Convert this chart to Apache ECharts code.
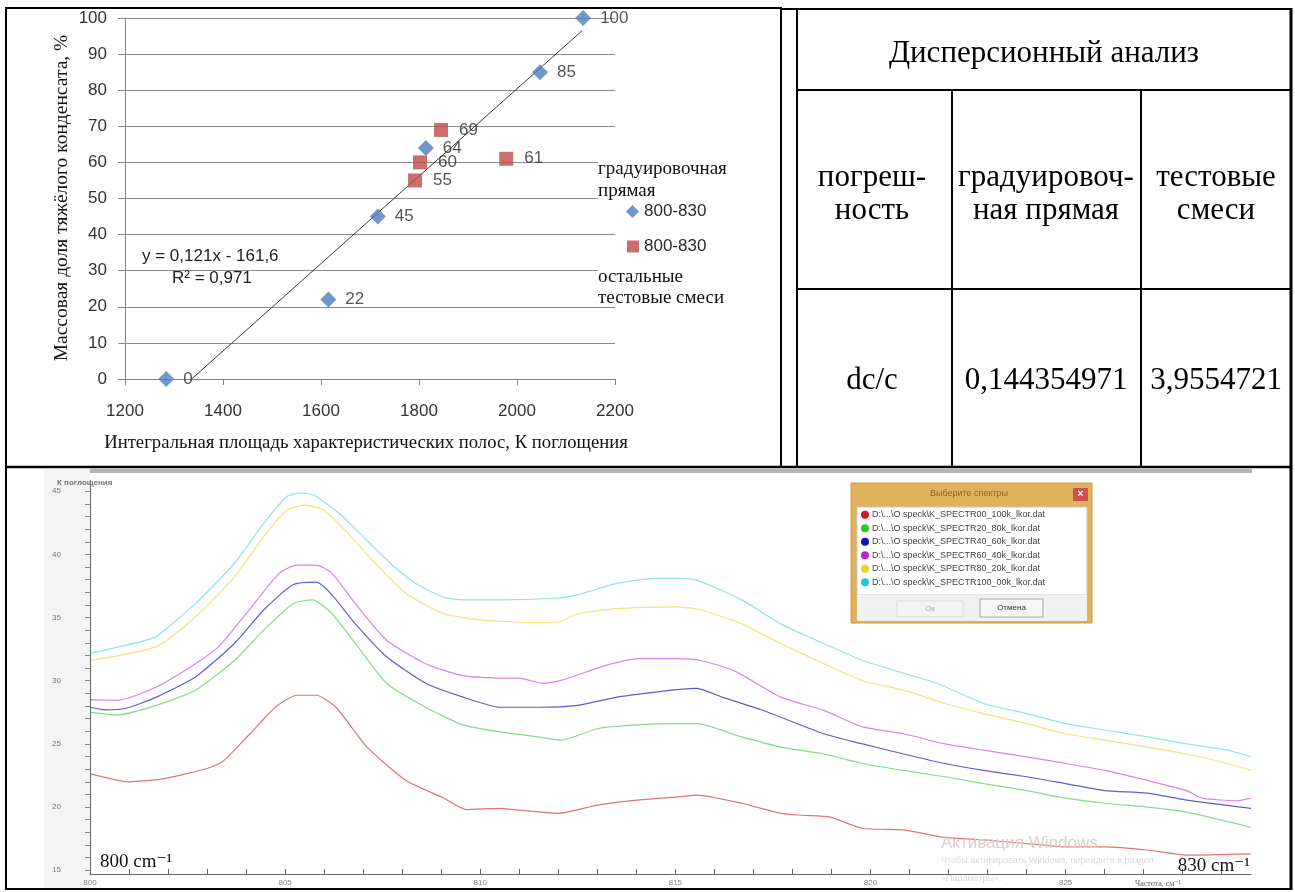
<!DOCTYPE html>
<html><head><meta charset="utf-8">
<script src="https://cdn.jsdelivr.net/npm/echarts@6/dist/echarts.min.js"></script>
<style>html,body{margin:0;padding:0;background:#fff;}#c{width:1295px;height:892px;}</style>
</head><body><div id="c"></div>
<script>
// ---------- DATA: calibration scatter ----------
const calibX = [1284, 1615, 1716, 1814, 2047, 2135];
const calibY = [0, 22, 45, 64, 85, 100];
const testX = [1792, 1802, 1845, 1978];
const testY = [55, 60, 69, 61];
const trendX = [1336, 2133];
const trendY = [0, 96.5];
const scatterXTicks = [1200, 1400, 1600, 1800, 2000, 2200];
const scatterYTicks = [0, 10, 20, 30, 40, 50, 60, 70, 80, 90, 100];
const seriesLegendName = '800-830';
const equationText = 'y = 0,121x - 161,6';
const r2Text = 'R² = 0,971';

// ---------- DATA: table ----------
const tableTitle = 'Дисперсионный анализ';
const tableHead = [['погреш-', 'ность'], ['градуировоч-', 'ная прямая'], ['тестовые', 'смеси']];
const tableRow = ['dc/c', '0,144354971', '3,9554721'];

// ---------- DATA: spectra (x: wavenumber, y: K поглощения) ----------
const specXTicks = [800, 805, 810, 815, 820, 825];
const specYTicks = [15, 20, 25, 30, 35, 40, 45];
const spec00 = [[800.0,22.65],[801.0,22.0],[801.9,22.25],[803.0,23.05],[803.4,23.6],[804.1,25.8],[804.75,27.9],[805.3,28.85],[805.8,28.85],[806.3,27.9],[807.1,24.75],[808.1,22.1],[809.07,20.7],[809.65,19.8],[810.5,19.9],[811.0,19.75],[812.0,19.5],[813.0,20.15],[814.0,20.55],[815.05,20.8],[815.55,20.95],[816.7,20.3],[817.7,19.5],[818.25,19.35],[818.97,19.2],[819.8,18.3],[820.85,18.2],[821.9,17.6],[822.9,17.4],[824.0,17.1],[825.0,16.85],[826.0,16.85],[827.1,16.6],[828.1,16.2],[829.75,16.3]];
const spec20 = [[800.0,27.5],[800.7,27.3],[801.7,28.05],[802.7,29.25],[803.7,31.6],[804.45,34.0],[805.2,36.1],[805.7,36.4],[806.2,35.3],[806.8,32.95],[807.6,29.8],[808.6,27.9],[809.56,26.5],[810.5,25.95],[811.5,25.55],[812.06,25.3],[813.0,26.2],[814.0,26.5],[815.05,26.6],[815.55,26.6],[816.7,25.55],[817.7,24.75],[818.8,24.2],[819.8,23.45],[820.85,22.9],[821.9,22.4],[822.9,21.85],[824.0,21.3],[825.0,20.7],[826.0,20.3],[827.1,20.0],[828.1,19.6],[829.75,18.4]];
const spec40 = [[800.0,27.9],[800.4,27.7],[800.9,27.8],[801.7,28.7],[802.7,30.3],[803.7,32.95],[804.45,35.6],[805.2,37.6],[805.8,37.8],[806.2,36.8],[806.8,34.5],[807.6,31.9],[808.6,29.8],[809.56,28.7],[810.5,27.9],[811.5,27.9],[812.5,28.05],[813.5,28.7],[814.5,29.1],[815.05,29.3],[815.55,29.4],[816.2,28.7],[817.2,27.7],[818.8,25.8],[819.8,25.0],[820.85,24.2],[821.9,23.45],[822.9,22.9],[824.0,22.4],[825.0,21.85],[826.0,21.3],[827.1,21.1],[828.1,20.55],[829.75,19.9]];
const spec60 = [[800.0,28.5],[800.7,28.45],[801.7,29.5],[802.7,31.35],[803.3,32.7],[804.0,35.3],[804.85,38.5],[805.3,39.15],[805.8,39.15],[806.2,38.5],[806.8,36.1],[807.6,33.2],[808.6,31.35],[809.56,30.4],[810.5,30.2],[811.0,30.2],[811.6,29.8],[812.1,30.05],[813.2,31.2],[814.07,31.75],[815.05,31.75],[815.65,31.6],[816.5,30.8],[817.7,28.7],[818.8,27.65],[819.8,26.35],[820.85,25.8],[821.9,25.0],[822.9,24.5],[824.0,23.97],[825.0,23.45],[826.0,22.9],[827.1,22.1],[828.1,21.3],[828.5,20.7],[829.4,20.5],[829.75,20.7]];
const spec80 = [[800.0,31.6],[801.7,32.7],[802.7,35.05],[803.7,38.2],[804.45,41.4],[805.04,43.5],[805.5,43.9],[806.0,43.5],[806.6,41.7],[807.4,39.0],[808.1,36.9],[809.07,35.3],[810.05,34.8],[811.5,34.6],[812.0,34.65],[812.5,35.3],[813.5,35.7],[815.05,35.85],[815.65,35.6],[816.7,34.5],[817.7,32.95],[818.8,31.35],[819.8,30.0],[820.85,29.25],[821.9,28.2],[822.9,27.4],[824.0,26.6],[825.0,25.8],[826.0,25.3],[827.1,24.75],[828.1,24.2],[829.15,23.45],[829.75,22.9]];
const spec100 = [[800.0,32.16],[801.3,33.1],[801.7,33.5],[802.7,36.1],[803.7,39.3],[804.45,42.45],[805.04,44.56],[805.4,44.87],[805.73,44.7],[806.4,43.2],[807.1,41.1],[807.8,39.0],[808.4,37.6],[809.07,36.6],[809.56,36.4],[810.5,36.4],[812.0,36.55],[812.5,36.8],[813.5,37.7],[814.5,38.1],[815.05,38.1],[815.55,37.96],[816.7,36.4],[817.7,34.5],[818.8,32.95],[819.8,31.6],[820.85,30.6],[821.7,29.8],[822.9,28.2],[824.0,27.4],[825.0,26.6],[826.0,26.1],[827.1,25.55],[828.1,25.0],[829.15,24.5],[829.75,23.97]];
const specFiles = ['D:\\...\\O speck\\K_SPECTR00_100k_lkor.dat','D:\\...\\O speck\\K_SPECTR20_80k_lkor.dat','D:\\...\\O speck\\K_SPECTR40_60k_lkor.dat','D:\\...\\O speck\\K_SPECTR60_40k_lkor.dat','D:\\...\\O speck\\K_SPECTR80_20k_lkor.dat','D:\\...\\O speck\\K_SPECTR100_00k_lkor.dat'];

// ---------- styling ----------
const SERIF = '"Liberation Serif","Times New Roman","DejaVu Serif",serif';
const SANS = '"Liberation Sans",Arial,sans-serif';
const specLineColors = ['#e07474', '#86dc86', '#5c5cd2', '#e07ee6', '#f3e27e', '#8fe2ee'];
const dotColors = ['#d8102a', '#22cc22', '#1010b0', '#c020d0', '#f0d020', '#20c8e0'];

const specData = [spec00, spec20, spec40, spec60, spec80, spec100];
const pairs = (xs, ys) => xs.map((x, i) => [x, ys[i]]);

function range(a, b) { const r = []; for (let v = a; v <= b; v++) r.push(v); return r; }

const G = [];
function ln(x1, y1, x2, y2, w, c) {
  G.push({ type: 'line', silent: true, z: 100, shape: { x1, y1, x2, y2 }, style: { stroke: c || '#000', lineWidth: w || 2 } });
}
function tx(text, x, y, font, fill, align, vAlign, extra) {
  G.push(Object.assign({ type: 'text', silent: true, z: 101, x, y, style: { text, font, fill: fill || '#000', align: align || 'left', verticalAlign: vAlign || 'middle' } }, extra || {}));
}
function rc(x, y, w, h, fill, stroke, z, lw) {
  G.push({ type: 'rect', silent: true, z: z === undefined ? 50 : z, shape: { x, y, width: w, height: h }, style: { fill: fill || 'none', stroke: stroke || 'none', lineWidth: lw || 1 } });
}

// ---- spectrum screenshot backdrop ----
rc(44, 469, 46, 420, '#f4f4f4', null, -5);
rc(90, 469, 1162, 4, '#b4b4b4', null, 5);
tx('К поглощения', 57, 483, 'bold 8px ' + SANS, '#777');
tx('800 cm⁻¹', 100, 862, '19px ' + SERIF, '#111');
tx('830 cm⁻¹', 1250, 866, '19px ' + SERIF, '#111', 'right');
tx('Частота, см⁻¹', 1135, 884, '8px ' + SERIF, '#555');
tx('Активация Windows', 941, 843, '17px ' + SANS, '#d8cfcf', 'left', 'middle', { z: 40 });
tx('Чтобы активировать Windows, перейдите в раздел', 941, 861, '9px ' + SANS, '#dadada', 'left', 'middle', { z: 40 });
tx('«Параметры».', 941, 879, '9px ' + SANS, '#dadada', 'left', 'middle', { z: 40 });

// ---- dialog ----
const dx = 851, dy = 483;
rc(dx, dy, 241, 140, '#e0b25c', '#c89a48', 60);
tx('Выберите спектры', dx + 118, dy + 11, '9px ' + SANS, '#8a6a2a', 'center');
rc(dx + 222, dy + 5, 15, 13, '#cf5048', null, 61);
tx('×', dx + 229.5, dy + 11, 'bold 10px ' + SANS, '#fff', 'center');
rc(dx + 6, dy + 24, 230, 88, '#ffffff', '#c8c8c8', 61);
rc(dx + 6, dy + 112, 230, 26, '#f0f0f0', null, 61);
specFiles.forEach((f, i) => {
  const yy = dy + 31.7 + i * 13.5;
  G.push({ type: 'circle', silent: true, z: 62, shape: { cx: dx + 14, cy: yy, r: 4 }, style: { fill: dotColors[i] } });
  tx(f, dx + 21, yy, '9px ' + SANS, '#444', 'left', 'middle', { z: 62 });
});
rc(dx + 46, dy + 118, 66, 16, '#f4f4f4', '#dddddd', 62);
tx('Ок', dx + 79, dy + 126, '8px ' + SANS, '#aaa', 'center', 'middle', { z: 63 });
rc(dx + 129, dy + 116, 63, 18, '#f6f6f6', '#a8a8a8', 62);
tx('Отмена', dx + 160.5, dy + 125, '8px ' + SANS, '#333', 'center', 'middle', { z: 63 });

// ---- scatter chart texts ----
rc(598, 156, 142, 46, '#fff', null, 20);
rc(598, 264, 142, 42, '#fff', null, 20);
tx('градуировочная', 598, 169, '19px ' + SERIF, '#111', 'left', 'middle', { z: 21 });
tx('прямая', 598, 191, '19px ' + SERIF, '#111', 'left', 'middle', { z: 21 });
tx('остальные', 598, 277, '19px ' + SERIF, '#111', 'left', 'middle', { z: 21 });
tx('тестовые смеси', 598, 298, '19px ' + SERIF, '#111', 'left', 'middle', { z: 21 });
tx(equationText, 142, 256, '17px ' + SANS, '#222');
tx(r2Text, 172, 278, '17px ' + SANS, '#222');
tx('Массовая доля тяжёлого конденсата, %', 62, 198, '19.5px ' + SERIF, '#111', 'center', 'middle', { rotation: Math.PI / 2 });
tx('Интегральная площадь характеристических полос, К поглощения', 366, 443, '18.7px ' + SERIF, '#111', 'center');

// ---- table ----
const TF = '31px ' + SERIF;
tx(tableTitle, 1044, 54, TF, '#000', 'center');
const colC = [872, 1046, 1216];
tableHead.forEach((h, i) => {
  tx(h[0], colC[i], 178, TF, '#000', 'center');
  tx(h[1], colC[i], 211, TF, '#000', 'center');
});
tableRow.forEach((t, i) => tx(t, colC[i], 381, TF, '#000', 'center'));

// ---- frame lines ----
ln(5, 8, 782, 8, 2);
ln(781, 9, 1292, 9, 2);
ln(6, 7, 6, 890, 2);
ln(1291, 8, 1291, 890, 3);
ln(5, 889, 1292, 889, 2);
ln(5, 467, 1292, 467, 2.5);
ln(781, 8, 781, 467, 2);
ln(797, 9, 797, 467, 2);
ln(797, 90, 1291, 90, 2);
ln(797, 289, 1291, 289, 2);
ln(952, 90, 952, 467, 2);
ln(1141, 90, 1141, 467, 2);

const chart = echarts.init(document.getElementById('c'), null, { renderer: 'canvas', width: 1295, height: 892 });
const legendBase = {
  orient: 'vertical', padding: 0, selectedMode: false, itemGap: 0,
  formatter: () => seriesLegendName,
  textStyle: { fontFamily: SANS, fontSize: 17, color: '#2a2a2a' }
};
const option = {
  animation: false,
  backgroundColor: '#ffffff',
  grid: [
    { left: 125, top: 18, width: 490, height: 361 },
    { left: 90, top: 480.5, width: 1161, height: 393.5 }
  ],
  legend: [
    Object.assign({}, legendBase, { data: ['calib'], left: 626, top: 203, itemWidth: 13, itemHeight: 13 }),
    Object.assign({}, legendBase, { data: ['test'], left: 627, top: 238, itemWidth: 12, itemHeight: 12 })
  ],
  xAxis: [
    {
      gridIndex: 0, type: 'value', min: scatterXTicks[0], max: scatterXTicks[scatterXTicks.length - 1], interval: 200,
      axisLine: { show: true, lineStyle: { color: '#868686' } },
      axisTick: { show: true, length: 6, lineStyle: { color: '#868686' } },
      axisLabel: { fontFamily: SANS, fontSize: 17, color: '#333', margin: 24, formatter: v => String(v) },
      splitLine: { show: false }
    },
    {
      gridIndex: 1, type: 'value', min: 800, max: 829.75, z: 10,
      axisLine: { show: true, onZero: false, lineStyle: { color: '#666' } },
      axisTick: { show: true, inside: true, length: 5, customValues: range(800, 829), lineStyle: { color: '#666' } },
      axisLabel: { customValues: specXTicks, fontFamily: SANS, fontSize: 8, color: '#888', margin: 5, formatter: v => String(v) },
      splitLine: { show: false }
    }
  ],
  yAxis: [
    {
      gridIndex: 0, type: 'value', min: scatterYTicks[0], max: scatterYTicks[scatterYTicks.length - 1], interval: 10,
      axisLine: { show: true, lineStyle: { color: '#868686' } },
      axisTick: { show: true, length: 7, lineStyle: { color: '#868686' } },
      axisLabel: { fontFamily: SANS, fontSize: 17, color: '#333', margin: 18 },
      splitLine: { show: true, lineStyle: { color: '#8c8c8c', width: 1 } }
    },
    {
      gridIndex: 1, type: 'value', min: 14.7, max: 45.85, z: 10,
      axisLine: { show: true, onZero: false, lineStyle: { color: '#666' } },
      axisTick: { show: true, length: 5, customValues: range(15, 45), lineStyle: { color: '#888' } },
      axisLabel: { customValues: specYTicks, fontFamily: SANS, fontSize: 8, color: '#777', margin: 29 },
      splitLine: { show: false }
    }
  ],
  series: [
    {
      name: 'trend', type: 'line', xAxisIndex: 0, yAxisIndex: 0, data: pairs(trendX, trendY),
      showSymbol: false, lineStyle: { color: '#3a3a3a', width: 1 }, z: 3
    },
    {
      name: 'calib', type: 'scatter', xAxisIndex: 0, yAxisIndex: 0, data: pairs(calibX, calibY),
      symbol: 'diamond', symbolSize: 16, itemStyle: { color: '#4a7ebb' }, z: 4,
      label: { show: true, position: 'right', distance: 9, formatter: p => p.value[1], fontFamily: SANS, fontSize: 17, color: '#2a2a2a' }
    },
    {
      name: 'test', type: 'scatter', xAxisIndex: 0, yAxisIndex: 0, data: pairs(testX, testY),
      symbol: 'rect', symbolSize: 14, itemStyle: { color: '#be4b48' }, z: 4,
      label: { show: true, position: 'right', distance: 11, formatter: p => p.value[1], fontFamily: SANS, fontSize: 17, color: '#2a2a2a' }
    }
  ].concat(specData.map((d, i) => ({
    name: 'spec' + i, type: 'line', xAxisIndex: 1, yAxisIndex: 1, data: d,
    showSymbol: false, smooth: 0.2, lineStyle: { color: specLineColors[i], width: 1.2 }, z: 2
  }))),
  graphic: G
};
chart.setOption(option);
</script></body></html>
